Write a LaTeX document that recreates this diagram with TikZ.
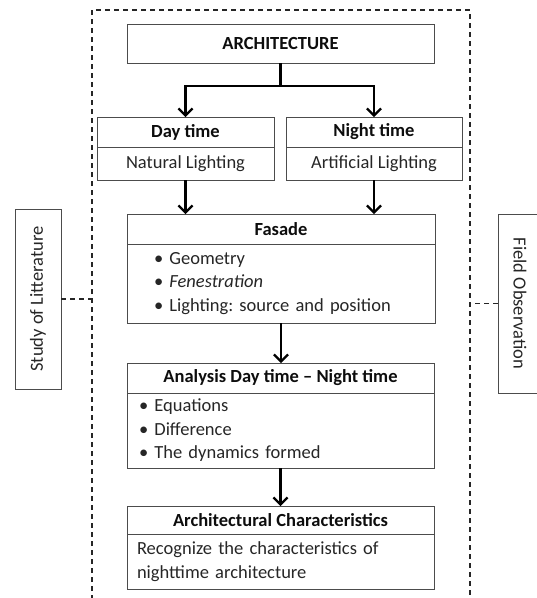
\documentclass[tikz,border=0pt]{standalone}
\usepackage{fontspec}
\setmainfont{Carlito}
\frenchspacing
\usetikzlibrary{positioning,arrows.meta}
\tikzset{
	box/.style={draw=black!70,line width=1pt,inner sep=0pt,outer sep=0pt,text=black!85,font=\fontsize{18.5}{23.5}\selectfont},
	head/.style={box,text=black!95,font=\fontsize{18.5}{23.5}\selectfont\bfseries},
	arr/.style={line width=2.2pt,-{Straight Barb[length=7pt,width=14pt]}},
	frm/.style={line width=1.2pt,dash pattern=on 5pt off 4pt,black!85}
}
\begin{document}
\begin{tikzpicture}[x=1pt,y=-1pt,line join=miter]
	\useasboundingbox (0,0) rectangle (537,598);
	%Khung
	\path (92,600) coordinate (F1) (92,10) coordinate (F2)
	(470,10) coordinate (F3) (470,600) coordinate (F4);
	\draw[frm] (F1)--(F2)--(F3)--(F4);
	%Architecture
	\node[head,anchor=north west,minimum width=307pt,minimum height=39pt] (arch) at (127,24) {ARCHITECTURE};
	%Day - Night
	\node[head,anchor=north west,minimum width=177pt,minimum height=30pt] (day) at (97,117) {Day time};
	\node[box,below=0pt of day,minimum width=177pt,minimum height=33pt] (dayb) {Natural Lighting};
	\node[head,anchor=north west,minimum width=176pt,minimum height=30pt] (night) at (286,117) {Night time};
	\node[box,below=0pt of night,minimum width=176pt,minimum height=33pt] (nightb) {Artificial Lighting};
	%Fasade
	\node[head,anchor=north west,minimum width=308pt,minimum height=30pt] (fas) at (127,214) {Fasade};
	\node[box,below=0pt of fas,inner xsep=27pt,text width=254pt,align=left,minimum height=79pt] (fasb)
	{\textbullet\ Geometry\\ \textbullet\ \textit{Fenestration}\\ \textbullet\ Lighting: source and position};
	%Analysis
	\node[head,anchor=north west,minimum width=307pt,minimum height=30pt] (ana) at (127,363) {Analysis Day time -- Night time};
	\node[box,below=0pt of ana,inner xsep=12pt,text width=283pt,align=left,minimum height=75pt] (anab)
	{\textbullet\ Equations\\ \textbullet\ Difference\\ \textbullet\ The dynamics formed};
	%Characteristics
	\node[head,anchor=north west,minimum width=307pt,minimum height=28pt] (chr) at (127,506) {Architectural Characteristics};
	\node[box,below=0pt of chr,inner xsep=10pt,text width=287pt,align=left,minimum height=55pt] (chrb)
	{Recognize the characteristics of\\ nighttime architecture};
	%Hai ben
	\node[box,rotate=90,minimum width=180pt,minimum height=46pt] (study) at (38,299) {Study of Litterature};
	\node[box,rotate=-90,minimum width=179pt,minimum height=44pt] (field) at (520,303.5) {Field Observation};
	\draw[frm] (study.south) -- (study.south -| F1);
	\draw[frm] (field.south) -- (field.south -| F4);
	%Mui ten
	\draw[line width=2.2pt] (arch.south) -- ++(0,23) coordinate (tach);
	\draw[arr] (tach) -| (day.north);
	\draw[arr] (tach) -| (night.north);
	\draw[arr] (dayb.south) -- (dayb.south |- fas.north);
	\draw[arr] (nightb.south) -- (nightb.south |- fas.north);
	\draw[arr] (fasb.south) -- (fasb.south |- ana.north);
	\draw[arr] (anab.south) -- (anab.south |- chr.north);
\end{tikzpicture}
\end{document}
